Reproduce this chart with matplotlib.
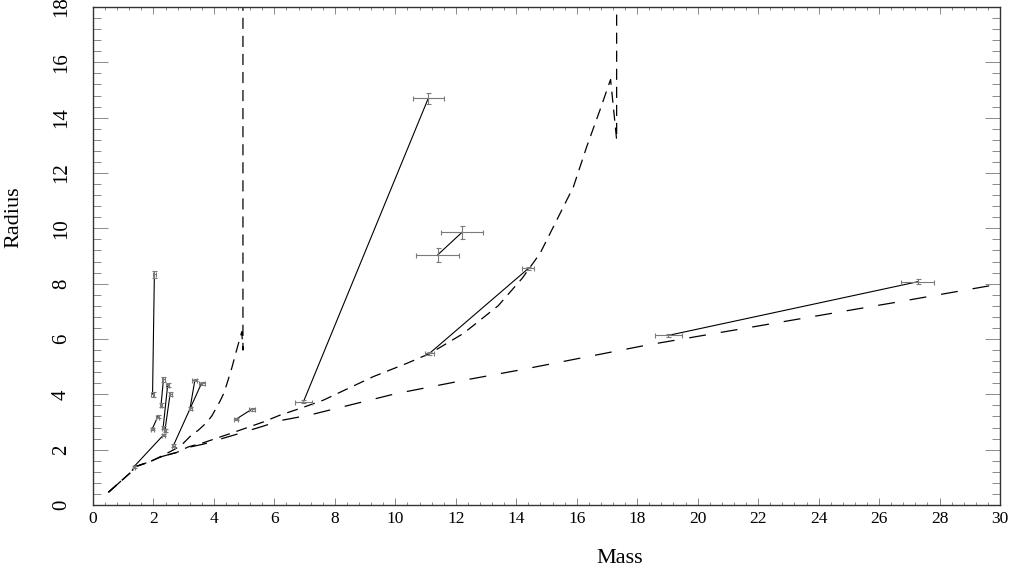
import matplotlib
matplotlib.use("Agg")
import matplotlib.pyplot as plt
import numpy as np

plt.rcParams['font.family'] = ['Liberation Serif', 'DejaVu Serif']
plt.rcParams['lines.scale_dashes'] = False

# ---- model curves ----
zams_mass = [0.51, 1.22, 1.39, 1.89, 2.27, 2.77, 3.15, 3.65, 4.64, 5.63, 6.19, 7.16, 10.0, 12.42, 14.12, 18.32, 22.0, 26.47, 30.0]
zams_radius = [0.46, 1.15, 1.38, 1.57, 1.75, 1.90, 2.08, 2.20, 2.52, 2.85, 3.05, 3.25, 4.02, 4.54, 4.88, 5.78, 6.47, 7.31, 7.99]

iso_old_mass = [0.51, 1.22, 1.39, 1.89, 2.27, 2.66, 2.93, 3.26, 3.48, 3.76, 3.93, 4.20, 4.31, 4.42, 4.59, 4.75, 4.92, 4.96, 4.96]
iso_old_radius = [0.46, 1.15, 1.38, 1.57, 1.77, 1.99, 2.17, 2.53, 2.70, 2.98, 3.22, 3.75, 4.00, 4.35, 4.95, 5.60, 6.26, 5.60, 19.0]

iso_young_mass = [0.51, 1.22, 1.39, 1.89, 2.27, 2.77, 3.15, 3.65, 4.64, 5.63, 6.19, 6.85, 7.62, 9.27, 10.38, 11.15, 12.25, 13.40, 14.20, 14.79, 15.34, 15.89, 16.33, 16.77, 17.12, 17.32, 17.32]
iso_young_radius = [0.46, 1.15, 1.38, 1.57, 1.75, 1.90, 2.10, 2.25, 2.62, 3.00, 3.25, 3.49, 3.79, 4.64, 5.12, 5.48, 6.20, 7.20, 8.20, 9.10, 10.30, 11.50, 12.95, 14.28, 15.38, 13.20, 19.0]

# ---- binary components (primary a, secondary b) ----
mass_a = [2.03, 1.96, 2.33, 2.47, 2.55, 1.35, 2.66, 3.21, 4.73, 6.96, 11.40, 11.13, 19.03]
radius_a = [8.34, 2.75, 4.54, 4.34, 4.01, 1.38, 2.15, 3.49, 3.10, 3.73, 9.04, 5.48, 6.13]
mass_err_a = [0.05, 0.05, 0.05, 0.05, 0.05, 0.03, 0.05, 0.05, 0.08, 0.28, 0.70, 0.14, 0.44]
radius_err_a = [0.12, 0.05, 0.08, 0.08, 0.08, 0.03, 0.05, 0.05, 0.04, 0.06, 0.24, 0.05, 0.05]

mass_b = [1.97, 2.14, 2.25, 2.32, 2.38, 2.33, 3.59, 3.37, 5.25, 11.09, 12.21, 14.40, 27.28]
radius_b = [4.00, 3.19, 3.61, 2.80, 2.70, 2.53, 4.40, 4.52, 3.46, 14.70, 9.86, 8.55, 8.07]
mass_err_b = [0.05, 0.05, 0.04, 0.04, 0.04, 0.04, 0.10, 0.08, 0.10, 0.51, 0.70, 0.20, 0.55]
radius_err_b = [0.10, 0.05, 0.06, 0.06, 0.06, 0.04, 0.05, 0.05, 0.05, 0.20, 0.24, 0.05, 0.09]

x_ticks = list(range(0, 31, 2))
y_ticks = list(range(0, 19, 2))

fig = plt.figure(figsize=(10.18, 5.67), dpi=100)
ax = fig.add_axes([93/1018, 62/567, 907/1018, 498/567])

ax.plot(zams_mass, zams_radius, color='black', lw=0.9, dashes=(12.2, 10.8))
ax.plot(iso_old_mass, iso_old_radius, color='black', lw=0.9, dashes=(8, 5))
ax.plot(iso_young_mass, iso_young_radius, color='black', lw=0.9, dashes=(8, 5))

for i in range(len(mass_a)):
    ax.plot([mass_a[i], mass_b[i]], [radius_a[i], radius_b[i]], color='black', lw=0.8)

ax.errorbar(mass_a, radius_a, xerr=mass_err_a, yerr=radius_err_a, fmt='none',
            ecolor='#7a7a7a', elinewidth=0.8, capsize=1.8, capthick=0.8)
ax.errorbar(mass_b, radius_b, xerr=mass_err_b, yerr=radius_err_b, fmt='none',
            ecolor='#7a7a7a', elinewidth=0.8, capsize=1.8, capthick=0.8)

ax.set_xlim(0, 30)
ax.set_ylim(0, 18)
ax.set_xticks(x_ticks)
ax.set_xticklabels([str(v) for v in x_ticks], fontsize=12.5)
ax.set_yticks(y_ticks)
ax.set_yticklabels([str(v) for v in y_ticks], fontsize=15, rotation=90, va='center')
ax.set_xticks(np.arange(0, 30.01, 0.4), minor=True)
ax.set_yticks(np.arange(0, 18.01, 0.4), minor=True)

ax.tick_params(axis='x', which='major', direction='in', top=True, bottom=True,
               length=5, width=0.7, color='#8a8a8a', pad=4)
ax.tick_params(axis='x', which='minor', direction='in', top=True, bottom=True,
               length=2.5, width=0.7, color='#8a8a8a')
ax.tick_params(axis='y', which='major', direction='in', left=True, right=True,
               length=11, width=0.7, color='#8a8a8a', pad=16)
ax.tick_params(axis='y', which='minor', direction='in', left=True, right=True,
               length=5.8, width=0.7, color='#8a8a8a')

for s in ax.spines.values():
    s.set_color('#333333')
    s.set_linewidth(1.0)

ax.set_xlabel('Mass', fontsize=16)
ax.xaxis.set_label_coords(0.581, -0.088)
ax.set_ylabel('Radius', fontsize=16)
ax.yaxis.set_label_coords(-0.077, 0.578)

fig.savefig('out.png', dpi=100)
